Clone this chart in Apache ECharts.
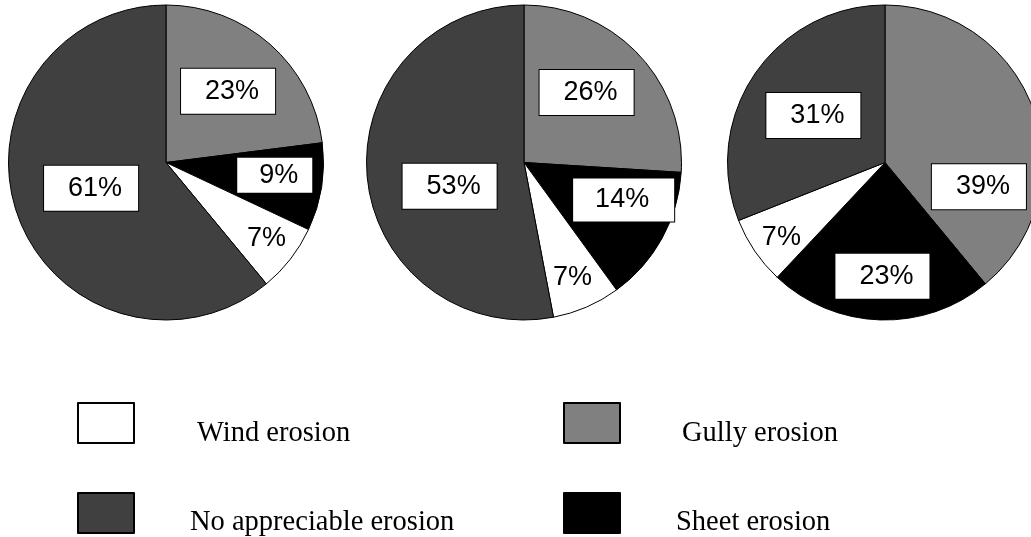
<!DOCTYPE html>
<html lang="en">
<head>
  <meta charset="UTF-8">
  <title>Erosion share pies</title>
  <script src="https://cdn.jsdelivr.net/npm/echarts@6/dist/echarts.min.js"></script>
  <style>
    html, body { margin: 0; padding: 0; background: #fff; }
    #main { width: 1031px; height: 537px; }
  </style>
</head>
<body>
  <div id="main"></div>

  <script>
    // slice order inside each pie, clockwise from 12 o'clock
    const sliceNames = ['Gully erosion', 'Sheet erosion', 'Wind erosion', 'No appreciable erosion'];
    const pie1Values = [23, 9, 7, 61];
    const pie2Values = [26, 14, 7, 53];
    const pie3Values = [39, 23, 7, 31];
    const legendNames = ['Wind erosion', 'Gully erosion', 'No appreciable erosion', 'Sheet erosion'];

    const colors = {
      'Gully erosion': '#808080',
      'Sheet erosion': '#000000',
      'Wind erosion': '#ffffff',
      'No appreciable erosion': '#404040'
    };

    // pie geometry + per-slice label tweaks (nudges from the 'inside' spot, box padding)
    const pies = [
      { values: pie1Values, center: [166, 162.5],
        nudge: [[8, -10], [28, 0], [36, 26], [2, -2]],
        pad: [[9, 16, 9, 24], [4, 14, 4, 22], null, [9, 16, 9, 24]] },
      { values: pie2Values, center: [524, 162.5],
        nudge: [[3, -14], [28, -2], [16, 40], [7, 16]],
        pad: [[9, 16, 9, 24], [8, 25, 8, 22], null, [9, 16, 9, 24]] },
      { values: pie3Values, center: [885, 162.5],
        nudge: [[17, 52], [0, 32], [-36, 29], [-4, -1]],
        pad: [[9, 16, 9, 24], [9, 16, 9, 24], null, [9, 16, 9, 24]] }
    ];

    const series = pies.map(p => ({
      type: 'pie',
      radius: 157.5,
      center: p.center,
      startAngle: 90,
      clockwise: true,
      silent: true,
      avoidLabelOverlap: false,
      itemStyle: { borderColor: '#000', borderWidth: 1 },
      label: {
        show: true,
        position: 'inside',
        formatter: '{c}%',
        fontFamily: 'Liberation Sans',
        fontSize: 27,
        lineHeight: 27,
        color: '#000'
      },
      labelLine: { show: false },
      labelLayout: params => ({ dx: p.nudge[params.dataIndex][0], dy: p.nudge[params.dataIndex][1] }),
      data: sliceNames.map((name, i) => ({
        name: name,
        value: p.values[i],
        itemStyle: { color: colors[name] },
        label: p.pad[i] ? {
          backgroundColor: '#fff',
          borderColor: '#000',
          borderWidth: 1,
          padding: p.pad[i]
        } : {}
      }))
    }));

    // one legend per key so each can sit where the original put it
    const legendSpots = [
      { left: 77, top: 402, textPad: [21, 0, 0, 58] },
      { left: 563, top: 402, textPad: [21, 0, 0, 57] },
      { left: 77, top: 492, textPad: [20, 0, 0, 51] },
      { left: 563, top: 492, textPad: [20, 0, 0, 51] }
    ];

    const legend = legendNames.map((name, i) => ({
      data: [name],
      left: legendSpots[i].left,
      top: legendSpots[i].top,
      padding: 0,
      icon: 'rect',
      itemWidth: 56,
      itemHeight: 40,
      selectedMode: false,
      itemStyle: { borderColor: '#000', borderWidth: 2 },
      formatter: n => '{t|' + n + '}',
      textStyle: {
        fontFamily: 'Liberation Serif',
        fontSize: 28.5,
        color: '#000',
        rich: {
          t: {
            fontFamily: 'Liberation Serif',
            fontSize: 28.5,
            color: '#000',
            padding: legendSpots[i].textPad
          }
        }
      }
    }));

    const chart = echarts.init(document.getElementById('main'));
    chart.setOption({
      backgroundColor: '#fff',
      animation: false,
      legend: legend,
      series: series
    });
  </script>
</body>
</html>
